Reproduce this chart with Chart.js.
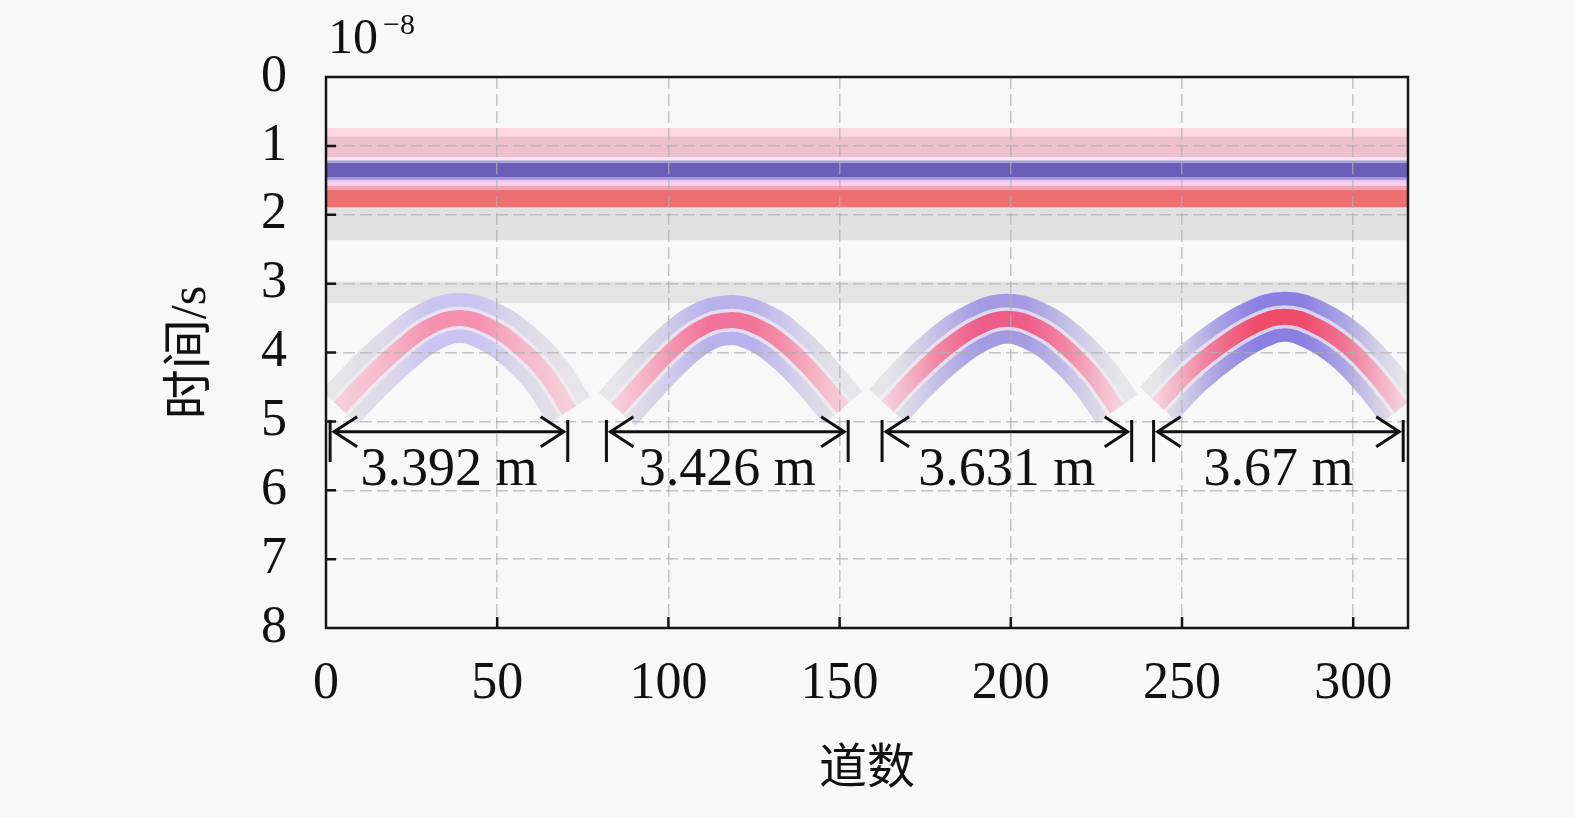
<!DOCTYPE html>
<html>
<head>
<meta charset="utf-8">
<title>道数 x 时间</title>
<script src="https://cdn.jsdelivr.net/npm/chart.js@4.4.1/dist/chart.umd.min.js"></script>
<style>
    html, body { margin: 0; padding: 0; background: #f8f8f8; }
    #grafico { display: block; }
</style>
</head>
<body>
<canvas id="grafico" width="1575" height="817"></canvas>
<script>
// Marcas dos eixos (tempo em unidades de 10^-8 s)
var ticksX = [0, 50, 100, 150, 200, 250, 300];
var ticksY = [0, 1, 2, 3, 4, 5, 6, 7, 8];
var maxTracos = 316;

// Faixas horizontais (reflexão da superfície), topo e base em tempo
var faixaTopo = [0.74, 0.86, 1.16, 1.21, 1.24, 1.46, 1.50, 1.58, 1.64, 1.89, 2.97];
var faixaBase = [0.86, 1.16, 1.21, 1.24, 1.46, 1.50, 1.58, 1.64, 1.89, 2.37, 3.28];

// Hipérboles (linha central de cada uma)
var tracos1 = [4, 13, 22, 30, 39, 48, 56, 64, 71];
var tempos1 = [4.80, 4.33, 3.92, 3.63, 3.50, 3.63, 3.90, 4.30, 4.84];
var tracos2 = [85, 93, 101, 109, 118, 127, 135, 143, 151];
var tempos2 = [4.82, 4.38, 3.97, 3.66, 3.53, 3.65, 3.93, 4.33, 4.80];
var tracos3 = [164, 172, 181, 190, 199, 208, 216, 224, 231];
var tempos3 = [4.78, 4.35, 3.94, 3.64, 3.51, 3.64, 3.92, 4.33, 4.82];
var tracos4 = [243, 252, 262, 271, 280, 289, 298, 306, 314];
var tempos4 = [4.75, 4.28, 3.88, 3.61, 3.48, 3.61, 3.90, 4.30, 4.80];

// Cotas (setas de largura) e seus rótulos
var setaInicio = [1.2, 81.9, 162.4, 241.7];
var setaFim = [70.6, 152.5, 235.3, 314.6];
var setaTempo = 5.15;
var barraTopo = 4.98;
var barraBase = 5.59;
var rotuloTempo = 5.92;
var rotulos = ['3.392 m', '3.426 m', '3.631 m', '3.67 m'];

// Estilos
var fonteSerif = "'Liberation Serif', 'Times New Roman', serif";
var fonteTitulo = "'Liberation Serif', 'Noto Sans CJK SC', serif";
var coresFaixa = ['#fdd8e2', '#ecc1cd', '#fae2f0', '#a69fdd', '#6a5eb9', '#a89ce0',
                  '#f9cdee', '#f4a4b4', '#ee6f72', '#e1e1e1', '#e4e4e4'];
var corAzulApice = ['#cbc3f2', '#b9b1eb', '#a49be3', '#8b80e1'];
var corAzulMeio = ['#dcd8ea', '#d2cdea', '#c4bee6', '#b0a8e4'];
var corVermelhoApice = ['#f590b0', '#f27399', '#ee5c8a', '#ef4c6a'];
var corVermelhoMeio = ['#f6b4c8', '#f49ab4', '#f286a6', '#f07898'];

var listaTracos = [tracos1, tracos2, tracos3, tracos4];
var listaTempos = [tempos1, tempos2, tempos3, tempos4];

// Função para montar os pontos {x, y} de uma série
function montarPontos(xs, ys) {
    return xs.map(function(v, i) {
        return { x: v, y: ys[i] };
    });
}

// Função que cria um degradê horizontal ao longo de uma hipérbole
function degradeHorizontal(corPonta, corMeio, corApice) {
    return function(contexto) {
        var chart = contexto.chart;
        if (!chart.chartArea) {
            return corApice;
        }
        var dados = contexto.dataset.data;
        var xa = chart.scales.x.getPixelForValue(dados[0].x);
        var xb = chart.scales.x.getPixelForValue(dados[dados.length - 1].x);
        var g = chart.ctx.createLinearGradient(xa, 0, xb, 0);
        g.addColorStop(0, corPonta);
        g.addColorStop(0.22, corMeio);
        g.addColorStop(0.4, corApice);
        g.addColorStop(0.6, corApice);
        g.addColorStop(0.78, corMeio);
        g.addColorStop(1, corPonta);
        return g;
    };
}

var conjuntos = [];

// Faixas horizontais preenchidas até a base
for (var i = 0; i < faixaTopo.length; i++) {
    conjuntos.push({
        data: [{ x: 0, y: faixaTopo[i] }, { x: maxTracos, y: faixaTopo[i] }],
        fill: { value: faixaBase[i] },
        backgroundColor: coresFaixa[i],
        borderWidth: 0,
        pointRadius: 0,
        order: 100
    });
}

// Hipérboles em três camadas (externa, faixa clara, núcleo)
for (var h = 0; h < listaTracos.length; h++) {
    var pontos = montarPontos(listaTracos[h], listaTempos[h]);
    conjuntos.push({
        data: pontos,
        borderColor: degradeHorizontal('rgba(215,213,218,0.55)', corAzulMeio[h], corAzulApice[h]),
        borderWidth: 50,
        tension: 0.4,
        pointRadius: 0,
        fill: false,
        order: 50
    });
    conjuntos.push({
        data: pontos,
        borderColor: 'rgba(240,238,242,0.75)',
        borderWidth: 23,
        tension: 0.4,
        pointRadius: 0,
        fill: false,
        order: 40
    });
    conjuntos.push({
        data: pontos,
        borderColor: degradeHorizontal('rgba(247,200,214,0.8)', corVermelhoMeio[h], corVermelhoApice[h]),
        borderWidth: 16,
        tension: 0.4,
        pointRadius: 0,
        fill: false,
        order: 30
    });
}

// Plugin para moldura, marcas internas, cotas e o fator 10^-8
var pluginAnotacoes = {
    id: 'anotacoes',
    afterDraw: function(chart) {
        var ctx = chart.ctx;
        var escX = chart.scales.x;
        var escY = chart.scales.y;
        var area = chart.chartArea;
        ctx.save();

        // moldura
        ctx.strokeStyle = '#151515';
        ctx.lineWidth = 2.5;
        ctx.strokeRect(area.left, area.top, area.right - area.left, area.bottom - area.top);

        // marcas internas
        ctx.lineWidth = 2.5;
        ctx.beginPath();
        ticksX.forEach(function(v) {
            if (v === 0) return;
            var px = escX.getPixelForValue(v);
            ctx.moveTo(px, area.bottom);
            ctx.lineTo(px, area.bottom - 11);
        });
        ticksY.forEach(function(v) {
            if (v === 0 || v === 8) return;
            var py = escY.getPixelForValue(v);
            ctx.moveTo(area.left, py);
            ctx.lineTo(area.left + 10, py);
        });
        ctx.stroke();

        // cotas com setas
        ctx.strokeStyle = '#111';
        ctx.fillStyle = '#111';
        ctx.font = '54px ' + fonteSerif;
        ctx.textAlign = 'center';
        ctx.textBaseline = 'alphabetic';
        var ya = escY.getPixelForValue(setaTempo);
        var yb1 = escY.getPixelForValue(barraTopo);
        var yb2 = escY.getPixelForValue(barraBase);
        var yr = escY.getPixelForValue(rotuloTempo);
        for (var k = 0; k < rotulos.length; k++) {
            var xa = escX.getPixelForValue(setaInicio[k]);
            var xb = escX.getPixelForValue(setaFim[k]);
            ctx.lineWidth = 3;
            ctx.beginPath();
            ctx.moveTo(xa, yb1); ctx.lineTo(xa, yb2);
            ctx.moveTo(xb, yb1); ctx.lineTo(xb, yb2);
            ctx.moveTo(xa + 3, ya); ctx.lineTo(xb - 3, ya);
            ctx.moveTo(xa + 27, ya - 15); ctx.lineTo(xa + 4, ya); ctx.lineTo(xa + 27, ya + 15);
            ctx.moveTo(xb - 27, ya - 15); ctx.lineTo(xb - 4, ya); ctx.lineTo(xb - 27, ya + 15);
            ctx.stroke();
            ctx.fillText(rotulos[k], (xa + xb) / 2, yr);
        }

        // fator de escala do eixo y
        ctx.textAlign = 'left';
        ctx.font = '50px ' + fonteSerif;
        ctx.fillText('10', area.left + 2, area.top - 24);
        ctx.font = '30px ' + fonteSerif;
        ctx.fillText('\u22128', area.left + 57, area.top - 43);
        ctx.restore();
    }
};

var configuracao = {
    type: 'line',
    data: { datasets: conjuntos },
    options: {
        responsive: false,
        devicePixelRatio: 1,
        animation: false,
        layout: { padding: { left: 0, right: 167, top: 77, bottom: 0 } },
        plugins: {
            legend: { display: false },
            tooltip: { enabled: false }
        },
        scales: {
            x: {
                type: 'linear',
                min: 0,
                max: maxTracos,
                afterBuildTicks: function(escala) {
                    escala.ticks = ticksX.map(function(v) { return { value: v }; });
                },
                afterFit: function(escala) { escala.height = 189; },
                grid: { color: 'rgba(175,175,175,0.7)', lineWidth: 1.5, drawTicks: false, z: 1 },
                border: { display: false, dash: [12, 5] },
                ticks: {
                    font: { family: fonteSerif, size: 52 },
                    color: '#111',
                    padding: 25,
                    maxRotation: 0,
                    autoSkip: false
                },
                title: {
                    display: true,
                    text: '道数',
                    color: '#111',
                    font: { family: fonteTitulo, size: 48 },
                    padding: { top: 0, bottom: 18 }
                }
            },
            y: {
                type: 'linear',
                min: 0,
                max: 8,
                reverse: true,
                afterBuildTicks: function(escala) {
                    escala.ticks = ticksY.map(function(v) { return { value: v }; });
                },
                afterFit: function(escala) { escala.width = 326; },
                grid: { color: 'rgba(175,175,175,0.7)', lineWidth: 1.5, drawTicks: false, z: 1 },
                border: { display: false, dash: [12, 5] },
                ticks: {
                    font: { family: fonteSerif, size: 52 },
                    color: '#111',
                    padding: 39
                },
                title: {
                    display: true,
                    text: '时间/s',
                    color: '#111',
                    font: { family: fonteTitulo, size: 50 },
                    padding: { top: 162, bottom: 0 }
                }
            }
        }
    },
    plugins: [pluginAnotacoes]
};

var meuGrafico = new Chart(document.getElementById('grafico').getContext('2d'), configuracao);
</script>
</body>
</html>
